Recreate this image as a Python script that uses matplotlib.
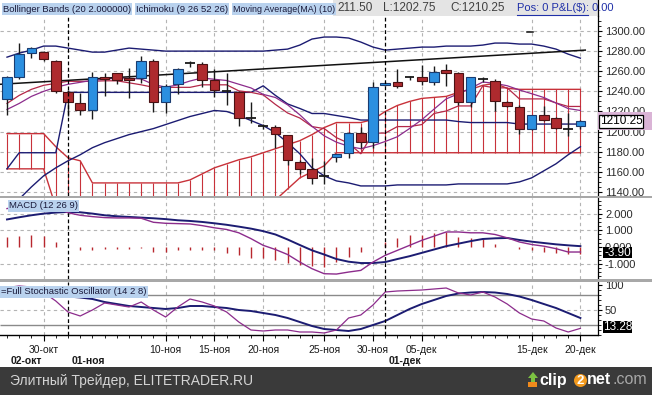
import numpy as np
import matplotlib
matplotlib.use("Agg")
import matplotlib.pyplot as plt
import matplotlib.transforms as mtransforms
from matplotlib.patches import Rectangle, Polygon, Circle
from matplotlib.lines import Line2D

plt.rcParams['font.family'] = ['Liberation Sans', 'DejaVu Sans']

# ---------------- data ----------------
opens = [1232, 1254, 1278, 1279, 1270, 1239, 1228, 1221, 1254, 1258, 1253, 1253, 1270, 1229, 1247, 1268,
         1267, 1251, 1240.5, 1239, 1214.5, 1206, 1205, 1197, 1170, 1163, 1156, 1175, 1179, 1199, 1190, 1246,
         1249, 1254, 1254, 1249, 1261, 1258, 1229, 1252, 1250, 1229, 1224, 1203, 1217, 1214, 1203, 1206]
highs = [1255, 1288, 1284, 1280, 1271, 1241, 1238, 1259, 1258, 1258, 1263, 1275, 1272, 1247, 1263, 1270,
         1269, 1262, 1258, 1240, 1229, 1208, 1207, 1197, 1172, 1174, 1171, 1178, 1200, 1205, 1249, 1249,
         1262, 1255, 1266, 1265, 1267, 1259, 1254, 1254, 1252, 1230, 1226, 1217, 1225, 1215, 1218, 1211.5]
lows = [1217, 1252, 1273, 1270, 1238, 1216, 1217, 1213, 1235, 1247, 1233, 1248, 1219, 1218, 1237, 1264,
        1244, 1234, 1226, 1206, 1209, 1203, 1184, 1167, 1158, 1148, 1148, 1170, 1174, 1184, 1184, 1245,
        1243, 1251, 1246, 1246, 1245, 1226, 1224, 1249, 1220, 1224, 1198, 1202, 1211, 1203, 1196, 1202.75]
closes = [1254, 1277, 1283, 1272, 1240, 1229, 1221, 1254, 1252, 1251, 1251, 1270, 1229, 1245, 1262, 1268,
          1251, 1241, 1240, 1214, 1214, 1206, 1198, 1172, 1163, 1154, 1156, 1178, 1199, 1190, 1244, 1248,
          1245, 1254, 1250, 1259, 1258, 1229, 1254, 1252, 1230, 1225, 1203, 1217, 1212, 1204, 1203, 1210.25]

bb_upper = [1274, 1278, 1281, 1285, 1285, 1283, 1281, 1279, 1279, 1281, 1283, 1282, 1281, 1280, 1280, 1280,
            1280, 1280, 1280, 1280, 1280, 1280, 1281, 1282, 1286, 1292, 1294, 1294, 1293, 1289, 1284, 1281,
            1282, 1283, 1284, 1284, 1285, 1285, 1285, 1286, 1288, 1288, 1287, 1287, 1285, 1282, 1277, 1273]
bb_lower = [1115, 1133, 1145, 1156, 1164, 1171, 1177, 1184, 1189, 1193, 1197, 1200, 1203, 1207, 1211, 1215,
            1218, 1221, 1220, 1216, 1211, 1206, 1199, 1189, 1178, 1164, 1156, 1151, 1149, 1146, 1146, 1146,
            1147, 1147, 1147, 1147, 1147, 1148, 1148, 1148, 1148, 1148, 1150, 1154, 1161, 1168, 1177, 1185]
tenkan = [1228, 1236, 1242, 1246, 1248, 1250, 1250, 1250, 1250.5, 1250.5, 1248.5, 1246.5, 1244, 1244, 1244, 1244,
          1246.5, 1246.5, 1246.5, 1240.5, 1239, 1236.5, 1227, 1218.5, 1213.5, 1205, 1203, 1194, 1188.5, 1178,
          1198.5, 1198.5, 1205, 1205, 1207, 1218, 1220.5, 1225.5, 1225.5, 1245.5, 1243.5, 1243.5, 1232.5, 1232.5,
          1232.5, 1228.5, 1225, 1225]
kijun = [1163, 1179, 1179, 1179, 1179, 1239, 1239, 1239, 1239, 1239, 1239, 1239, 1239, 1239, 1239, 1239,
         1239, 1239, 1239, 1239, 1239, 1245.5, 1236, 1227.5, 1223, 1218, 1218, 1216, 1214, 1211.5, 1211.5, 1211.5,
         1211.5, 1211.5, 1211.5, 1211.5, 1211.5, 1210, 1209, 1209, 1209, 1209, 1207.5, 1207.5, 1207.5, 1207.5,
         1207.5, 1207.5]
span_a = [1198, 1198, 1198, 1198, 1185, 1174, 1171, 1149, 1149, 1149, 1149, 1149, 1149, 1149, 1149, 1152,
          1158, 1164, 1168, 1172, 1175, 1179, 1183, 1187, 1191, 1197, 1204, 1209, 1209, 1209, 1212, 1220,
          1226, 1230, 1233, 1234, 1235, 1239, 1242, 1246, 1248, 1243, 1242, 1242, 1242, 1242, 1242, 1242]
span_b = [1163, 1163, 1163, 1163, 1125, 1125, 1125, 1125, 1125, 1125, 1125, 1125, 1125, 1125, 1125, 1125,
          1125, 1125, 1125, 1125, 1125, 1125, 1132, 1143, 1154, 1160, 1166, 1179, 1179, 1179, 1179, 1179,
          1179, 1179, 1179, 1179, 1179, 1179, 1179, 1179, 1179, 1179, 1179, 1179, 1179, 1179, 1179, 1179]
ma10 = [1222, 1228, 1235, 1240, 1244, 1247, 1249, 1251, 1252, 1253.3, 1253.0, 1252.3, 1246.9, 1244.2, 1246.4,
        1250.3, 1253.3, 1252.0, 1250.8, 1247.1, 1243.4, 1237.0, 1233.9, 1226.6, 1216.7, 1205.3, 1195.8, 1189.5,
        1185.4, 1183.0, 1186.0, 1190.2, 1194.9, 1203.1, 1211.8, 1222.3, 1232.5, 1237.6, 1243.1, 1249.3, 1247.9,
        1245.6, 1241.4, 1237.7, 1233.9, 1228.4, 1222.9, 1221.0]
trend_x = [-0.6, 47.4]
trend_y = [1247, 1281]
mark_bar = [42.6, 43.1]
mark_level = 1299

macd = [2.3, 2.45, 2.6, 2.65, 2.35, 2.05, 1.9, 1.82, 1.76, 1.74, 1.74, 1.72, 1.48, 1.42, 1.40, 1.38,
        1.28, 1.15, 1.05, 0.85, 0.5, 0.1, -0.15, -0.45, -0.9, -1.3, -1.6, -1.62, -1.5, -1.4, -0.9, -0.5,
        -0.2, 0.1, 0.4, 0.65, 0.9, 0.9, 0.85, 0.85, 0.75, 0.55, 0.3, 0.15, 0.05, -0.1, -0.3, -0.3]
signal = [1.65, 1.78, 1.9, 2.0, 2.06, 2.1, 2.08, 2.0, 1.9, 1.84, 1.8, 1.76, 1.72, 1.67, 1.6, 1.56,
          1.5, 1.42, 1.33, 1.22, 1.1, 0.95, 0.75, 0.45, 0.12, -0.2, -0.45, -0.72, -0.88, -0.96, -0.96, -0.9,
          -0.72, -0.55, -0.35, -0.15, 0.05, 0.2, 0.35, 0.48, 0.52, 0.54, 0.42, 0.32, 0.24, 0.16, 0.1, 0.05]
hist = [0.6, 0.66, 0.7, 0.66, 0.3, 0.0, -0.18, -0.15, -0.12, -0.12, -0.1, -0.05, -0.3, -0.3, -0.2, -0.2,
        -0.2, -0.2, -0.36, -0.48, -0.66, -0.66, -0.78, -0.96, -1.08, -1.14, -1.2, -0.9, -0.6, -0.3, 0.0, 0.3,
        0.54, 0.72, 0.72, 0.84, 0.9, 0.62, 0.54, 0.48, 0.2, 0.0, -0.1, -0.2, -0.3, -0.35, -0.4, -0.4]

stoch_k = [95, 98, 96, 85, 68, 46, 38, 50, 64, 60, 56, 66, 50, 36, 56, 72,
           66, 58, 46, 26, 10, 8, 10, 10, 6, 6, 4, 10, 34, 40, 60, 86,
           88, 89, 90, 92, 94, 84, 80, 86, 76, 62, 44, 32, 28, 14, 6, 13.28]
stoch_d = [85, 86, 86, 84, 80, 77, 75, 72, 66, 62, 58, 56, 54, 52, 54, 58,
           58, 56, 54, 50, 48, 44, 40, 34, 26, 18, 12, 10, 8, 12, 20, 28,
           40, 52, 62, 70, 78, 83, 85, 86, 85, 82, 77, 70, 62, 54, 44, 34]

date_ticks = [3, 13, 17, 21, 26, 30, 34, 43, 47]
date_labels = ['30-окт', '10-ноя', '15-ноя', '20-ноя', '25-ноя', '30-ноя', '05-дек', '15-дек', '20-дек']
month_starts = [5, 31]
month_labels = ['01-ноя', '01-дек']
first_month_label = '02-окт'
price_ticks = [1140, 1160, 1180, 1200, 1220, 1240, 1260, 1280, 1300]
macd_ticks = [2, 1, 0, -1]
macd_tick_labels = ['2.000', '1.000', '0.000', '-1.000']
stoch_ticks = [100, 50]
stoch_levels = [80, 20]
last_close_label = '1210.25'
last_macd_label = '-3.90'
last_stoch_label = '13.28'

# ---------------- layout ----------------
W, H = 652, 395
fig = plt.figure(figsize=(W / 100, H / 100), dpi=100)
fig.patch.set_facecolor('white')
T = mtransforms.Affine2D().scale(1.0 / W, -1.0 / H).translate(0, 1) + fig.transFigure

XL = (-7 / 12.2, 591 / 12.2)
GRID = '#b4b4b4'
NAVY = '#1c1c72'
PURP = '#8c2c8c'
CLOUD = '#c8323a'


def make_ax(y0, y1, ylim):
    ax = fig.add_axes([0, 1 - y1 / H, 598 / W, (y1 - y0) / H])
    ax.set_xlim(*XL)
    ax.set_ylim(*ylim)
    ax.set_facecolor('white')
    for s in ('top', 'left', 'bottom'):
        ax.spines[s].set_visible(False)
    ax.spines['right'].set_linewidth(0.9)
    ax.yaxis.tick_right()
    ax.tick_params(axis='y', which='major', direction='out', length=3, width=0.8, pad=2,
                   labelsize=8, labelcolor='#2a2a2a')
    ax.tick_params(axis='y', which='minor', direction='out', length=2, width=0.6)
    ax.tick_params(axis='x', which='both', bottom=False, labelbottom=False)
    lo, hi = ylim
    ax.vlines(date_ticks, lo, hi, colors=GRID, linestyles=(0, (3, 3)), lw=0.8, zorder=0)
    ax.vlines(month_starts, lo, hi, colors='black', linestyles=(0, (3, 2)), lw=0.9, zorder=6)
    return ax


idx = np.arange(len(closes))

# ---- price panel ----
ax_p = make_ax(16, 196, (1136.0, 1314.9))
ax_p.hlines(price_ticks, XL[0], XL[1], colors=GRID, linestyles=(0, (3, 3)), lw=0.8, zorder=0)
ax_p.set_yticks(price_ticks)
ax_p.set_yticklabels([f'{v:.2f}' for v in price_ticks])
ax_p.set_yticks(np.arange(1140, 1315, 5), minor=True)

ax_p.vlines(idx, span_b, span_a, colors=CLOUD, lw=0.8, zorder=1)
ax_p.plot(idx, span_a, color=CLOUD, lw=1.0, zorder=1)
ax_p.plot(idx, span_b, color=CLOUD, lw=1.0, zorder=1)

ax_p.plot(idx, bb_upper, color=NAVY, lw=1.0, zorder=2)
ax_p.plot(idx, bb_lower, color=NAVY, lw=1.0, zorder=2)
ax_p.plot(idx, kijun, color=NAVY, lw=1.0, zorder=2)
ax_p.plot(idx, tenkan, color='#b42848', lw=0.9, zorder=2)
ax_p.plot(idx, ma10, color=PURP, lw=0.9, zorder=2)
ax_p.plot(trend_x, trend_y, color='#111111', lw=1.1, zorder=2)
ax_p.plot(mark_bar, [mark_level, mark_level], color='#111111', lw=1.1, zorder=2)

o = np.array(opens, float); c = np.array(closes, float)
h = np.array(highs, float); l = np.array(lows, float)
up = c > o + 0.9
dn = c < o - 0.9
dj = ~(up | dn)
ax_p.vlines(idx, l, h, colors='#1a1a1a', lw=1.0, zorder=4)
ax_p.bar(idx[up], (c - o)[up], bottom=o[up], width=0.78, color='#2b8fe0',
         edgecolor='#1a3c70', lw=0.8, zorder=5)
ax_p.bar(idx[dn], (o - c)[dn], bottom=c[dn], width=0.78, color='#ae2a2e',
         edgecolor='#4a1214', lw=0.8, zorder=5)
ax_p.hlines(c[dj], idx[dj] - 0.39, idx[dj] + 0.39, colors='#1a1a1a', lw=1.3, zorder=5)

# ---- MACD panel ----
ax_m = make_ax(198, 279, (-1.916, 2.934))
ax_m.hlines([2, 1, -1], XL[0], XL[1], colors=GRID, linestyles=(0, (3, 3)), lw=0.8, zorder=0)
ax_m.set_yticks(macd_ticks)
ax_m.set_yticklabels(macd_tick_labels)
ax_m.set_yticks(np.arange(-1.75, 2.9, 0.25), minor=True)
ax_m.vlines(idx, 0, hist, colors='#b8282e', lw=1.0, zorder=2)
ax_m.plot(idx, signal, color=NAVY, lw=1.4, zorder=3)
ax_m.plot(idx, macd, color=PURP, lw=1.0, zorder=3)

# ---- Stochastic panel ----
ax_s = make_ax(282, 335, (0, 106))
ax_s.hlines(stoch_levels, XL[0], XL[1], colors='#8a8a8a', lw=1.0, zorder=0)
ax_s.hlines([50], XL[0], XL[1], colors=GRID, linestyles=(0, (3, 3)), lw=0.8, zorder=0)
ax_s.set_yticks(stoch_ticks)
ax_s.set_yticklabels([str(v) for v in stoch_ticks])
ax_s.set_yticks(np.arange(0, 106, 10), minor=True)
ax_s.plot(idx, stoch_d, color=NAVY, lw=1.4, zorder=3)
ax_s.plot(idx, stoch_k, color=PURP, lw=0.9, zorder=3)
ax_s.spines['bottom'].set_visible(True)
ax_s.spines['bottom'].set_linewidth(1.0)
ax_s.tick_params(axis='x', which='major', bottom=True, labelbottom=True, direction='out',
                 length=4, width=0.8, pad=3, labelsize=7.5, labelcolor='#1a1a1a')
ax_s.tick_params(axis='x', which='minor', bottom=True, direction='out', length=2, width=0.6)
ax_s.set_xticks(date_ticks)
ax_s.set_xticklabels(date_labels)
ax_s.set_xticks(idx, minor=True)

btrans = mtransforms.blended_transform_factory(ax_s.transData, T)
ax_s.text(XL[0] + 0.85, 361, first_month_label, transform=btrans, fontsize=7.5,
          fontweight='bold', ha='left', va='center', color='#1a1a1a')
for m, lab in zip(month_starts, month_labels):
    ax_s.text(m + 0.3, 361, lab, transform=btrans, fontsize=7.5, fontweight='bold',
              ha='left', va='center', color='#1a1a1a')

# ---------------- overlays (pixel coords) ----------------
def prect(x0, y0, x1, y1, **kw):
    fig.patches.append(Rectangle((x0, y0), x1 - x0, y1 - y0, transform=T, **kw))


def ptext(x, y, s, **kw):
    fig.text(x, y, s, transform=T, **kw)


# header strip
prect(0, 0, 598, 16, facecolor='white', edgecolor='none', zorder=1)
prect(333, 0, 598, 16, facecolor='#e4e4e4', edgecolor='none', zorder=1)
fig.lines.append(Line2D([598, 598], [0, 16], transform=T, color='black', lw=0.9))
lab_bbox = dict(boxstyle='square,pad=0.12', facecolor='#b9d2ee', edgecolor='none')
ptext(3, 9, 'Bollinger Bands (20 2.000000)', fontsize=6.8, va='center', ha='left', color='#1a1a3a', bbox=lab_bbox)
ptext(136, 9, 'Ichimoku (9 26 52 26)', fontsize=6.8, va='center', ha='left', color='#1a1a3a', bbox=lab_bbox)
ptext(233, 9, 'Moving Average(MA) (10)', fontsize=6.4, va='center', ha='left', color='#1a1a3a', bbox=lab_bbox)
ptext(337, 8, '211.50', fontsize=8.5, va='center', ha='left', color='#404040')
ptext(383, 8, 'L:1202.75', fontsize=8.5, va='center', ha='left', color='#404040')
ptext(450, 8, 'C:1210.25', fontsize=8.5, va='center', ha='left', color='#404040')
ptext(517, 8, 'Pos: 0 P&L($): 0.00', fontsize=8.0, va='center', ha='left', color='#2030a8')
fig.lines.append(Line2D([517, 588], [15, 15], transform=T, color='#2030a8', lw=0.8))

# panel labels
ptext(9, 206, 'MACD (12 26 9)', fontsize=6.8, va='center', ha='left', color='#1a1a3a', bbox=lab_bbox)
ptext(1, 292, '=Full Stochastic Oscillator (14 2 8)', fontsize=6.8, va='center', ha='left',
      color='#1a1a3a', bbox=lab_bbox)

# separators
prect(0, 196, 652, 198, facecolor='#a8a8a8', edgecolor='none', zorder=2)
prect(0, 279, 652, 281.5, facecolor='#a8a8a8', edgecolor='none', zorder=2)

# last-value boxes
prect(598, 112, 652, 130, facecolor='#dab4d6', edgecolor='none', zorder=2)
prect(599, 115, 643, 128, facecolor='white', edgecolor='black', lw=0.9, zorder=3)
ptext(621, 121.5, last_close_label, fontsize=8.5, va='center', ha='center', color='black', zorder=4)
prect(603, 247, 632, 258, facecolor='black', edgecolor='none', zorder=3)
ptext(617.5, 252.5, last_macd_label, fontsize=8.5, va='center', ha='center', color='white', zorder=4)
prect(603, 321, 632, 333, facecolor='black', edgecolor='none', zorder=3)
ptext(617.5, 327, last_stoch_label, fontsize=8.5, va='center', ha='center', color='white', zorder=4)

# footer
prect(0, 367, 652, 395, facecolor='#3a3a3a', edgecolor='none', zorder=2)
ptext(10, 381, 'Элитный Трейдер, ELITETRADER.RU', fontsize=10, va='center', ha='left',
      color='#d4d4d4', zorder=4)
fig.patches.append(Polygon([[528, 378], [533, 372], [538, 378], [535, 378], [535, 382], [531, 382], [531, 378]],
                           closed=True, transform=T, facecolor='#7cc242', edgecolor='none', zorder=4))
prect(528, 382, 537, 387, facecolor='#f08a1c', edgecolor='none', zorder=4)
ptext(539, 380, 'clip', fontsize=11.5, fontweight='bold', va='center', ha='left', color='white', zorder=4)
fig.patches.append(Circle((580.5, 380.5), 6.5, transform=T, facecolor='#f39a1e', edgecolor='none', zorder=4))
ptext(580.5, 380.5, '2', fontsize=9.5, fontweight='bold', va='center', ha='center', color='white', zorder=5)
ptext(587, 380, 'net', fontsize=11.5, fontweight='bold', va='center', ha='left', color='white', zorder=4)
ptext(613, 380, '.com', fontsize=11.5, va='center', ha='left', color='#a8a8a8', zorder=4)

fig.savefig('out.png', dpi=100, facecolor='white')
